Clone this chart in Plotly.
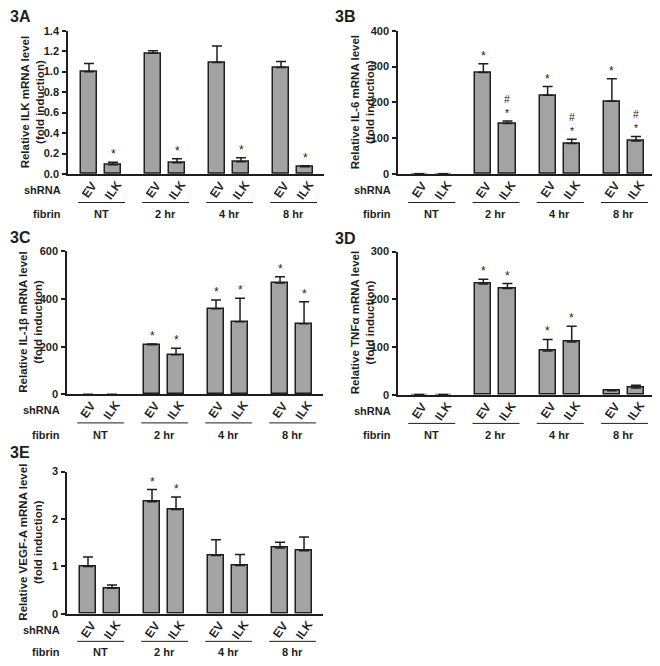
import plotly.graph_objects as go

# ---------------- data ----------------
groups = ["NT", "2 hr", "4 hr", "8 hr"]
shrna = ["EV", "ILK"]

ilk_mean = [1.00, 0.09, 1.18, 0.11, 1.09, 0.12, 1.04, 0.07]
ilk_err = [0.08, 0.025, 0.025, 0.038, 0.16, 0.038, 0.06, 0.01]
ilk_sig = ["", "*", "", "*", "", "*", "", "*"]

il6_mean = [1, 1, 283, 141, 220, 85, 203, 92]
il6_err = [0, 0, 25, 7, 24, 12, 63, 13]
il6_sig = ["", "", "*", "#<br>*", "*", "#<br>*", "*", "#<br>*"]

il1b_mean = [1, 1, 208, 166, 359, 304, 466, 296]
il1b_err = [0, 0, 3, 27, 36, 99, 27, 92]
il1b_sig = ["", "", "*", "*", "*", "*", "*", "*"]

tnfa_mean = [1, 1, 232, 223, 92, 111, 9, 14.5]
tnfa_err = [0, 0, 10, 10, 24, 33, 1, 5.5]
tnfa_sig = ["", "", "*", "*", "*", "*", "", ""]

vegfa_mean = [1.00, 0.54, 2.36, 2.20, 1.23, 1.02, 1.39, 1.33]
vegfa_err = [0.20, 0.07, 0.26, 0.26, 0.33, 0.23, 0.12, 0.29]
vegfa_sig = ["", "", "*", "*", "", "", "", ""]

panels = [
    dict(tag="3A", gene="ILK", mean=ilk_mean, err=ilk_err, sig=ilk_sig,
         ticks=[0, 0.2, 0.4, 0.6, 0.8, 1.0, 1.2, 1.4], fmt=".1f"),
    dict(tag="3B", gene="IL-6", mean=il6_mean, err=il6_err, sig=il6_sig,
         ticks=[0, 100, 200, 300, 400], fmt="d"),
    dict(tag="3C", gene="IL-1β", mean=il1b_mean, err=il1b_err, sig=il1b_sig,
         ticks=[0, 200, 400, 600], fmt="d"),
    dict(tag="3D", gene="TNFα", mean=tnfa_mean, err=tnfa_err, sig=tnfa_sig,
         ticks=[0, 100, 200, 300], fmt="d"),
    dict(tag="3E", gene="VEGF-A", mean=vegfa_mean, err=vegfa_err, sig=vegfa_sig,
         ticks=[0, 1, 2, 3], fmt="d"),
]

# ---------------- layout geometry (screen pixels) ----------------
PAGE_OFF = 8            # default body margin of the html page
W, H = 660 - PAGE_OFF, 666 - PAGE_OFF
boxes = [  # left, right, top, bottom of plot area (screen px)
    (68, 324, 25, 171),
    (398, 655, 25, 171),
    (67, 323, 249.5, 395.5),
    (398, 655, 250, 396),
    (67, 323, 474, 619),
]
row_offsets = [(16, 29, 41), (16, 29, 41), (16, 29, 41), (16, 29, 41), (16, 28, 39)]
tag_pos = [(8, 11), (333, 11), (8, 236), (333, 237), (8, 455)]

def px(x):
    return (x - PAGE_OFF) / W

def py(y):
    return 1 - (y - PAGE_OFF) / H

TXT = "#1e1e1e"
FONT = "Liberation Sans, Arial, sans-serif"
GS = 8 / 3  # group spacing in bar units
pos = [g * GS + m for g in range(len(groups)) for m in range(len(shrna))]
XR = [-0.875, 3 * GS + 1 + 0.79]

fig = go.Figure()
annotations = []
shapes = []

for i, (p, box) in enumerate(zip(panels, boxes)):
    n = i + 1
    xa = "x" if n == 1 else f"x{n}"
    ya = "y" if n == 1 else f"y{n}"
    l, r, t, b = box
    ymax = p["ticks"][-1]
    lw = [0 if m < 0.01 * ymax else 1.5 for m in p["mean"]]
    fig.add_trace(go.Bar(
        x=pos, y=p["mean"], xaxis=xa, yaxis=ya, width=0.67,
        marker=dict(color="#a3a3a3", line=dict(color=TXT, width=lw)),
        error_y=dict(type="data", array=p["err"], arrayminus=[0] * len(p["err"]),
                     symmetric=False, color=TXT, thickness=1.5, width=5),
        showlegend=False, hoverinfo="skip",
    ))
    fig.layout[("xaxis" if n == 1 else f"xaxis{n}")] = dict(
        domain=[px(l), px(r)], range=XR, anchor=ya, showticklabels=False,
        ticks="", showgrid=False, zeroline=False, showline=True,
        linecolor=TXT, linewidth=1.5, fixedrange=True)
    fig.layout[("yaxis" if n == 1 else f"yaxis{n}")] = dict(
        domain=[py(b), py(t)], range=[0, ymax * 1.0], anchor=xa,
        tickvals=p["ticks"], tickformat=p["fmt"], ticks="outside", ticklen=4,
        tickwidth=1.5, tickcolor=TXT, showgrid=False, zeroline=False,
        showline=True, linecolor=TXT, linewidth=1.5, ticklabelstandoff=1,
        tickfont=dict(family=FONT, size=11, color=TXT, weight="bold"),
        fixedrange=True)

    # significance markers above the error cap
    for xv, m, e, s in zip(pos, p["mean"], p["err"], p["sig"]):
        if not s:
            continue
        stacked = "<br>" in s
        annotations.append(dict(
            x=xv, y=m + e, xref=xa, yref=ya, text=s, showarrow=False,
            yanchor="bottom", yshift=0 if stacked else -1,
            font=dict(family=FONT, size=10.5 if stacked else 12, color=TXT)))

    # y-axis title
    annotations.append(dict(
        x=px(l - 36), y=py((t + b) / 2), xref="paper", yref="paper",
        text=f"<b>Relative {p['gene']} mRNA level<br>(fold induction)</b>",
        textangle=-90, showarrow=False, xanchor="center", yanchor="middle",
        font=dict(family=FONT, size=11.5, color=TXT)))

    # panel tag
    tx, ty = tag_pos[i]
    annotations.append(dict(
        x=px(tx), y=py(ty), xref="paper", yref="paper", text=f"<b>{p['tag']}</b>",
        showarrow=False, xanchor="left", yanchor="middle",
        font=dict(family=FONT, size=16, color=TXT)))

    o1, o2, o3 = row_offsets[i]
    # shRNA / fibrin row labels
    annotations.append(dict(
        x=px(l - 5), y=py(b + o1), xref="paper", yref="paper", text="<b>shRNA</b>",
        showarrow=False, xanchor="right", yanchor="middle",
        font=dict(family=FONT, size=11, color=TXT)))
    annotations.append(dict(
        x=px(l - 5), y=py(b + o3), xref="paper", yref="paper", text="<b>fibrin</b>",
        showarrow=False, xanchor="right", yanchor="middle",
        font=dict(family=FONT, size=11, color=TXT)))

    # rotated EV / ILK labels
    for k, xv in enumerate(pos):
        annotations.append(dict(
            x=xv, y=py(b + o1), xref=xa, yref="paper",
            text=f"<b>{shrna[k % 2]}</b>", textangle=-55, showarrow=False,
            xanchor="center", yanchor="middle",
            font=dict(family=FONT, size=12, color=TXT)))

    # group underline + labels
    for g, gname in enumerate(groups):
        x0 = g * GS - 0.45
        x1 = g * GS + 1 + 0.5
        shapes.append(dict(type="line", xref=xa, yref="paper",
                           x0=x0, x1=x1, y0=py(b + o2), y1=py(b + o2),
                           line=dict(color=TXT, width=1)))
        annotations.append(dict(
            x=g * GS + 0.5, y=py(b + o3), xref=xa, yref="paper",
            text=f"<b>{gname}</b>", showarrow=False, xanchor="center",
            yanchor="middle", font=dict(family=FONT, size=11, color=TXT)))

fig.update_layout(
    width=W, height=H, margin=dict(l=0, r=0, t=0, b=0),
    paper_bgcolor="white", plot_bgcolor="white",
    annotations=annotations, shapes=shapes, bargap=0,
    font=dict(family=FONT, color=TXT),
)

fig.write_html("out.html")
